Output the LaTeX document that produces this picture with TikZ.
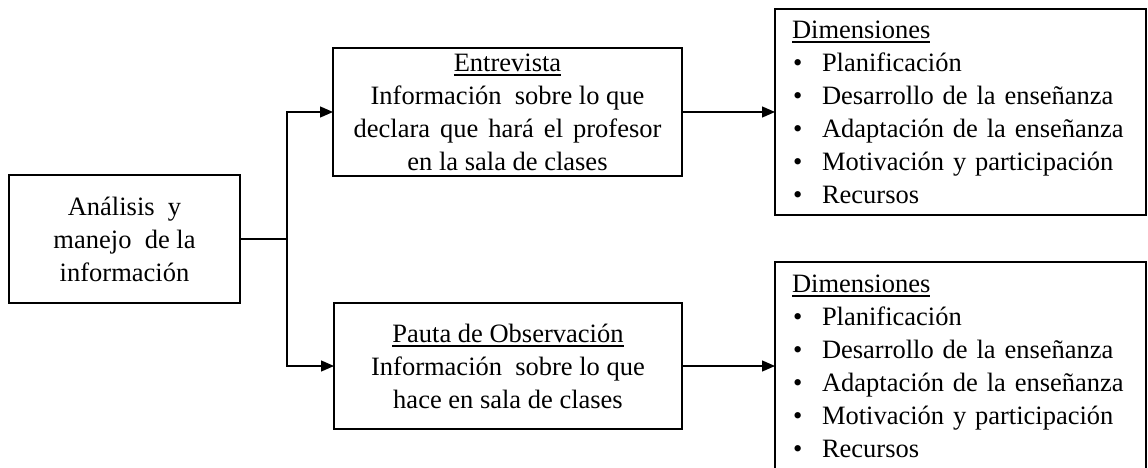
\documentclass[tikz,border=0pt]{standalone}
\usepackage{fontspec}
\setmainfont{Liberation Serif}
\usetikzlibrary{arrows.meta}
\newcommand{\myul}[1]{\setbox0\hbox{#1}\rlap{\rule[-4.5pt]{\wd0}{1.3pt}}\box0}
\newcommand{\bul}{\makebox[30pt][l]{\hspace{1pt}•}}
\newcommand{\ws}{\hspace{10pt}}
\tikzset{
  box/.style={draw=black, line width=1.4pt, rectangle, outer sep=0pt, inner sep=2pt,
    font=\fontsize{26.5}{33}\selectfont},
  cbox/.style={box, align=center},
  rbox/.style={box, align=left, text width=337pt},
  conn/.style={line width=1.3pt},
  arr/.style={conn, -{Triangle[length=13pt,width=11pt]}},
}
\begin{document}
\begin{tikzpicture}[x=1pt,y=-1pt]
\useasboundingbox (0,0) rectangle (1148,468);
\node[cbox, minimum width=231pt, minimum height=128pt] (L) at (124.5,239)
  {Análisis\ \ y\\manejo\ \ de la\\información};
\node[cbox, minimum width=349pt, minimum height=128pt] (M1) at (507.5,112)
  {\myul{Entrevista}\\Información\ \ sobre lo que\\declara\ws que\ws hará\ws el\ws profesor\\en la sala de clases};
\node[cbox, minimum width=348pt, minimum height=126pt] (M2) at (508,366)
  {\myul{Pauta de Observación}\\Información\ \ sobre lo que\\hace en sala de clases};
\node[rbox, minimum width=371pt, minimum height=206pt] (R1) at (960.5,112)
  {\mbox{\myul{Dimensiones}}\\\mbox{\bul Planificación}\\\mbox{\bul Desarrollo de la enseñanza}\\\mbox{\bul Adaptación de la enseñanza}\\\mbox{\bul Motivación y participación}\\\mbox{\bul Recursos}};
\node[rbox, minimum width=371pt, minimum height=208pt] (R2) at (960.5,366)
  {\mbox{\myul{Dimensiones}}\\\mbox{\bul Planificación}\\\mbox{\bul Desarrollo de la enseñanza}\\\mbox{\bul Adaptación de la enseñanza}\\\mbox{\bul Motivación y participación}\\\mbox{\bul Recursos}};
\coordinate (J) at (287,239);
\draw[conn] (L.east) -- (J);
\draw[arr] (J) |- (M1.west);
\draw[arr] (J) |- (M2.west);
\draw[arr] (M1.east) -- (R1.west);
\draw[arr] (M2.east) -- (M2.east -| R2.west);
\end{tikzpicture}
\end{document}
